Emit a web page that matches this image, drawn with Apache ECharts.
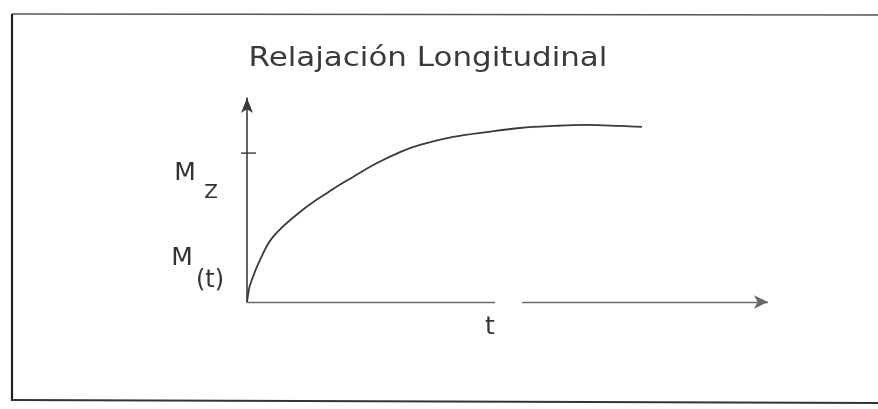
<!DOCTYPE html>
<html>
<head>
<meta charset="utf-8">
<script src="https://cdn.jsdelivr.net/npm/echarts@6/dist/echarts.min.js"></script>
<style>
  html, body { margin: 0; padding: 0; background: #fff; }
  #chart { width: 878px; height: 409px; }
</style>
</head>
<body>
<div id="chart"></div>
<script>
// Longitudinal relaxation curve: magnetization recovering towards Mz over time
const titleText = 'Relajación Longitudinal';
const timeValues    = [0, 0.25, 0.58, 2.5, 4.99, 10.17, 15.93, 20.35, 24.95, 29.37, 33.2, 39.54, 46.07, 52.4, 58.73, 65.26, 71.6, 75.8];
const magnetization = [0, 4.3, 8.3, 20.6, 31.9, 44.1, 54.4, 61.3, 68.1, 73.5, 77.0, 80.9, 83.3, 85.3, 86.3, 86.8, 86.3, 85.8];
const mzLevel = 73;            // marked level on the vertical axis
const mzLabelLevel = 62;       // where the "Mz" label sits
const mtLabelLevel = 22;       // where the "M(t)" label sits
const timeLabelAt = 46.6;      // where the "t" label sits on the time axis
const timeAxisGap = [47.6, 52.8];
const axisRange = { xMin: 0, xMax: 100, yMin: 0, yMax: 100 };

const ink = '#333';
const font = 'DejaVu Sans';

const chart = echarts.init(document.getElementById('chart'));

chart.setOption({
  animation: false,
  backgroundColor: '#fff',
  grid: { left: 247, right: 110, top: 98, bottom: 107 },
  xAxis: {
    type: 'value', min: axisRange.xMin, max: axisRange.xMax,
    axisLine: { show: false }, axisTick: { show: false },
    axisLabel: { show: false }, splitLine: { show: false }
  },
  yAxis: {
    type: 'value', min: axisRange.yMin, max: axisRange.yMax,
    axisLine: {
      show: true, onZero: false,
      symbol: ['none', 'arrow'], symbolSize: [9, 15],
      lineStyle: { color: '#3a3a3a', width: 1.6 }
    },
    axisTick: { show: false }, axisLabel: { show: false }, splitLine: { show: false }
  },
  series: [{
    type: 'line',
    data: timeValues.map((t, i) => [t, magnetization[i]]),
    smooth: 0.4,
    showSymbol: false,
    lineStyle: { color: '#3a3a3a', width: 1.8 },
    markLine: {
      silent: true,
      symbol: ['none', 'none'],
      label: { show: false },
      lineStyle: { color: '#6a6a6a', width: 1.4, type: 'solid' },
      data: [
        [{ coord: [axisRange.xMin, 0] }, { coord: [timeAxisGap[0], 0] }],
        [{ coord: [timeAxisGap[1], 0] },
         { coord: [axisRange.xMax, 0], symbol: 'arrow', symbolSize: [10, 14],
           itemStyle: { color: '#2a2a2a' } }]
      ]
    }
  }]
});

// Frame, title, axis annotations placed relative to the axes
const origin = chart.convertToPixel({ gridIndex: 0 }, [0, 0]);
const yPix = v => chart.convertToPixel({ gridIndex: 0 }, [0, v])[1];
const xPix = v => chart.convertToPixel({ gridIndex: 0 }, [v, 0])[0];

const mzY = yPix(mzLevel);
const mzLabelY = yPix(mzLabelLevel);
const mtLabelY = yPix(mtLabelLevel);
const textFont = (size) => 'normal ' + size + 'px "' + font + '"';

chart.setOption({
  graphic: [
    // outer frame
    { type: 'line', shape: { x1: 12, y1: 14, x2: 878, y2: 15 }, style: { stroke: '#555', lineWidth: 1.6 } },
    { type: 'line', shape: { x1: 12, y1: 14, x2: 12, y2: 401 }, style: { stroke: '#222', lineWidth: 2.2 } },
    { type: 'line', shape: { x1: 12, y1: 400, x2: 878, y2: 403 }, style: { stroke: '#333', lineWidth: 2 } },
    // level mark on the vertical axis
    { type: 'line', shape: { x1: origin[0] - 6, y1: mzY, x2: origin[0] + 9, y2: mzY }, style: { stroke: '#3a3a3a', lineWidth: 1.4 } },
    // title, widened lettering
    { type: 'text', x: 428, y: 59, scaleX: 1.19, originX: 0, originY: 0,
      style: { text: titleText, font: textFont(26), fill: '#3a3a3a', align: 'center', verticalAlign: 'middle' } },
    // Mz label
    { type: 'text', x: origin[0] - 62, y: mzLabelY - 2,
      style: { text: 'M', font: textFont(25), fill: ink, align: 'center', verticalAlign: 'middle' } },
    { type: 'text', x: origin[0] - 36, y: mzLabelY + 17,
      style: { text: 'Z', font: textFont(20), fill: ink, align: 'center', verticalAlign: 'middle' } },
    // M(t) label
    { type: 'text', x: origin[0] - 65, y: mtLabelY + 1,
      style: { text: 'M', font: textFont(25), fill: ink, align: 'center', verticalAlign: 'middle' } },
    { type: 'text', x: origin[0] - 37, y: mtLabelY + 24,
      style: { text: '(t)', font: textFont(24), fill: ink, align: 'center', verticalAlign: 'middle' } },
    // time axis label
    { type: 'text', x: xPix(timeLabelAt), y: origin[1] + 25,
      style: { text: 't', font: textFont(25), fill: ink, align: 'center', verticalAlign: 'middle' } }
  ]
});
</script>
</body>
</html>
